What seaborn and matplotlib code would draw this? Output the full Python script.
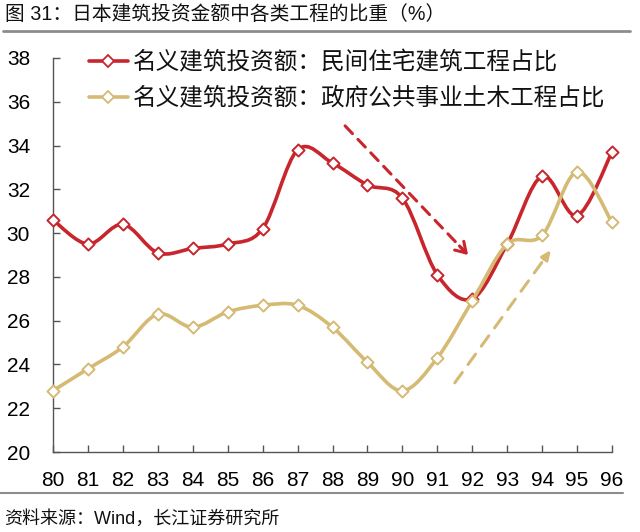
import numpy as np
import pandas as pd
import matplotlib
matplotlib.use('Agg')
import matplotlib.pyplot as plt
import seaborn as sns
from matplotlib.path import Path
from matplotlib.patches import PathPatch
from matplotlib.lines import Line2D

# ---------------- data ----------------
years = list(range(80, 97))
year_labels = [str(y) for y in years]
private_housing = [30.6, 29.5, 30.4, 29.1, 29.3, 29.5, 30.2, 33.8, 33.2, 32.2,
                   31.6, 28.1, 27.0, 29.5, 32.6, 30.8, 33.7]
public_civil = [22.8, 23.8, 24.8, 26.3, 25.7, 26.4, 26.7, 26.7, 25.7, 24.1,
                22.8, 24.3, 26.9, 29.5, 29.9, 32.8, 30.5]
series_names = ['名义建筑投资额：民间住宅建筑工程占比',
                '名义建筑投资额：政府公共事业土木工程占比']
y_ticks = [20, 22, 24, 26, 28, 30, 32, 34, 36, 38]
title_text = '图 31：日本建筑投资金额中各类工程的比重（%）'
source_text = '资料来源：Wind，长江证券研究所'

RED = '#C8262C'
GOLD = '#D5BA74'

sns.set_theme(style='white')
plt.rcParams['font.family'] = ['Liberation Sans', 'Noto Sans CJK SC', 'DejaVu Sans']
plt.rcParams['axes.unicode_minus'] = False

df = pd.DataFrame({'year': years * 2,
                   'value': private_housing + public_civil,
                   'series': [series_names[0]] * len(years) + [series_names[1]] * len(years)})

W, H = 640, 532
fig = plt.figure(figsize=(W / 100, H / 100), dpi=100)
ax = fig.add_axes([53 / W, 1 - 452 / H, (612 - 53) / W, (452 - 58) / H])


def smooth_path(x, y):
    pts = np.column_stack([x, y]).astype(float)
    n = len(pts)
    verts = [pts[0]]
    codes = [Path.MOVETO]
    for i in range(n - 1):
        p0 = pts[max(i - 1, 0)]
        p1 = pts[i]
        p2 = pts[i + 1]
        p3 = pts[min(i + 2, n - 1)]
        c1 = p1 + (p2 - p0) / 6.0
        c2 = p2 - (p3 - p1) / 6.0
        verts += [c1, c2, p2]
        codes += [Path.CURVE4] * 3
    return Path(verts, codes)


colors = [RED, GOLD]
for k, name in enumerate(series_names):
    sub = df[df['series'] == name]
    patch = PathPatch(smooth_path(sub['year'].values, sub['value'].values),
                      fill=False, edgecolor=colors[k], lw=2.6,
                      capstyle='round', joinstyle='round', zorder=2 + 2 * k)
    patch.set_clip_on(False)
    ax.add_patch(patch)
    sns.scatterplot(data=sub, x='year', y='value', ax=ax, marker='D', s=38,
                    color='white', edgecolor=colors[k], linewidth=1.4,
                    zorder=3 + 2 * k, legend=False, clip_on=False)

ax.set_xlim(80, 96)
ax.set_ylim(20, 38)
ax.set_xticks(years)
ax.set_xticklabels(year_labels)
ax.set_yticks(y_ticks)
ax.set_xlabel('')
ax.set_ylabel('')
for s in ['top', 'right']:
    ax.spines[s].set_visible(False)
for s in ['left', 'bottom']:
    ax.spines[s].set_color('#555555')
    ax.spines[s].set_linewidth(1.0)
ax.tick_params(axis='both', direction='in', length=5, width=1.0, color='#555555',
               labelsize=15, labelcolor='black')
ax.tick_params(axis='y', pad=16.5, left=True)
ax.tick_params(axis='x', pad=14, bottom=True)


# trend arrows (annotations)
def dashed_arrow(start, end, color, dash, style, hw, hl):
    sx, sy = start
    ex, ey = end
    ax.annotate('', xy=(ex, ey), xytext=(sx, sy),
                arrowprops=dict(arrowstyle='-', color=color, lw=2.2,
                                linestyle=(0, dash), shrinkA=0, shrinkB=6))
    hx = ex - (ex - sx) * 0.07
    hy = ey - (ey - sy) * 0.07
    ax.annotate('', xy=(ex, ey), xytext=(hx, hy),
                arrowprops=dict(arrowstyle=f'{style},head_width={hw},head_length={hl}',
                                color=color, lw=2.2, shrinkA=0, shrinkB=0))


dashed_arrow((88.36, 34.9), (91.88, 29.0), RED, (3.5, 2.6), '->', 0.38, 0.6)
dashed_arrow((91.5, 23.16), (94.25, 29.23), GOLD, (4.2, 3.2), '-|>', 0.2, 0.45)

# legend
handles = [Line2D([0], [0], color=c, lw=2.6, marker='D', markersize=6,
                  markerfacecolor='white', markeredgecolor=c, markeredgewidth=1.3)
           for c in colors]
leg = ax.legend(handles, series_names, loc='upper left',
                bbox_to_anchor=((89 - 53) / (612 - 53), 1.018), frameon=False,
                fontsize=17, handlelength=1.65, handletextpad=0.2,
                labelspacing=0.55, borderpad=0, borderaxespad=0)
for t in leg.get_texts():
    t.set_color('#111111')

# title, rules, source
fig.text(5 / W, 1 - 14 / H, title_text, fontsize=14.2, va='center', ha='left',
         color='#111111')
fig.add_artist(Line2D([3 / W, 630 / W], [1 - 31 / H, 1 - 31 / H], color='#8c8c8c', lw=2.0))
fig.add_artist(Line2D([0 / W, 623 / W], [1 - 493 / H, 1 - 493 / H], color='#8c8c8c', lw=1.5))
fig.text(4 / W, 1 - 519 / H, source_text, fontsize=13, va='center', ha='left',
         color='#111111')

fig.savefig('out.png', dpi=100)
